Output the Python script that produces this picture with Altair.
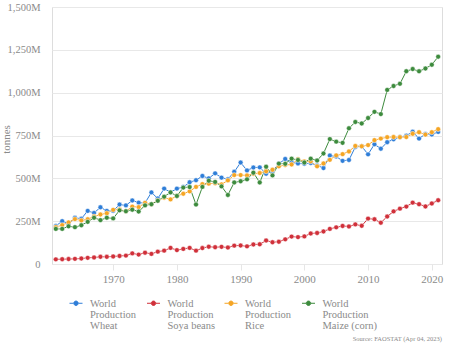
import altair as alt
import pandas as pd

years = list(range(1961, 2022))

wheat = [222, 250, 235, 270, 264, 310, 298, 331, 310, 310, 347, 342, 371, 358, 356, 418, 382, 440, 419, 440,
         449, 477, 489, 514, 500, 529, 504, 495, 538, 592, 546, 563, 564, 527, 543, 585, 613, 593, 587, 585,
         589, 575, 560, 633, 627, 602, 607, 683, 687, 640, 699, 673, 711, 728, 741, 749, 772, 732, 759, 756, 771]
soya = [27, 28, 29, 30, 32, 36, 38, 42, 42, 44, 47, 49, 62, 55, 66, 59, 72, 78, 94, 81,
        88, 94, 78, 93, 101, 98, 100, 96, 107, 108, 103, 114, 115, 137, 127, 130, 144, 160, 157, 161,
        178, 181, 190, 205, 214, 222, 219, 231, 223, 265, 261, 241, 277, 307, 323, 335, 358, 349, 336, 353, 372]
rice = [215, 227, 243, 262, 254, 261, 277, 289, 296, 316, 318, 308, 335, 332, 357, 349, 371, 387, 377, 397,
        410, 424, 450, 466, 469, 471, 465, 488, 519, 519, 517, 527, 531, 541, 550, 570, 578, 581, 611, 599,
        599, 570, 587, 608, 634, 641, 657, 689, 687, 694, 723, 732, 740, 741, 740, 741, 760, 769, 755, 769, 787]
maize = [205, 205, 220, 215, 226, 246, 270, 256, 270, 266, 313, 308, 317, 306, 342, 349, 369, 393, 418, 397,
         446, 449, 347, 450, 486, 479, 453, 403, 476, 483, 494, 533, 476, 568, 517, 586, 585, 615, 607, 592,
         615, 604, 645, 729, 714, 707, 792, 829, 820, 852, 888, 875, 1016, 1039, 1052, 1125, 1138, 1125, 1141, 1163, 1210]

series_names = ["Wheat", "Soya beans", "Rice", "Maize (corn)"]
series_colors = ["#2f7ed8", "#d0303a", "#f5a524", "#3d8b3d"]
series_values = [wheat, soya, rice, maize]

rows = []
for name, vals in zip(series_names, series_values):
    for y, v in zip(years, vals):
        rows.append({"year": y, "value": v * 1e6, "item": name})
df = pd.DataFrame(rows)

FONT = "Liberation Serif"
GRAY = "#8a8a8a"

# legend symbol: short line with a dot in the middle (shifted down to sit on the first label line)
sym = ("M-1,0.62L-0.38,0.62M0.38,0.62L1,0.62"
       "M0.34,0.62A0.34,0.34 0 1 1 -0.34,0.62A0.34,0.34 0 1 1 0.34,0.62Z")

lines = alt.Chart(df).mark_line(
    strokeWidth=1,
    point=alt.OverlayMarkDef(filled=True, size=24, stroke="white", strokeWidth=0.5),
).encode(
    x=alt.X("year:Q",
            scale=alt.Scale(domain=[1960.4, 2021.6], nice=False, zero=False),
            axis=alt.Axis(values=[1970, 1980, 1990, 2000, 2010, 2020], format="d", title=None,
                          grid=False, domain=False, ticks=True, tickSize=6, tickColor="#e6e6e6",
                          labelPadding=3, labelFont=FONT, labelFontSize=11, labelColor=GRAY)),
    y=alt.Y("value:Q",
            scale=alt.Scale(domain=[0, 1.5e9], nice=False),
            axis=alt.Axis(values=[0, 250e6, 500e6, 750e6, 1000e6, 1250e6, 1500e6],
                          labelExpr="datum.value == 0 ? '0' : format(datum.value / 1e6, ',') + 'M'",
                          title="tonnes", titleFont=FONT, titleFontSize=11, titleFontWeight="normal",
                          titleColor=GRAY, titleX=-46, titleY=132, titleAlign="center",
                          titleBaseline="middle", titleAngle=270,
                          grid=True, gridColor="#e8e8e8", domain=False, ticks=False,
                          labelPadding=12, labelFont=FONT, labelFontSize=10.5, labelColor=GRAY)),
    color=alt.Color("item:N",
                    scale=alt.Scale(domain=series_names, range=series_colors),
                    legend=alt.Legend(title=None, orient="none", legendX=17, legendY=285,
                                      direction="horizontal", columns=4, columnPadding=-0.5,
                                      gridAlign="all",
                                      symbolType=sym, symbolSize=169, symbolStrokeWidth=1,
                                      labelOffset=7, labelFont=FONT, labelFontSize=10.5,
                                      labelColor=GRAY, labelBaseline="top",
                                      labelExpr="['World', 'Production', datum.label]")),
    order=alt.Order("year:Q"),
)

source = alt.Chart(pd.DataFrame({"t": ["Source: FAOSTAT (Apr 04, 2023)"]})).mark_text(
    align="right", baseline="middle", font=FONT, fontSize=6.5, color=GRAY
).encode(text="t:N", x=alt.value(390), y=alt.value(332))

chart = alt.layer(lines, source).properties(
    width=390, height=257,
    autosize=alt.AutoSizeParams(type="none"),
    padding={"left": 52, "top": 7, "right": 8, "bottom": 81},
).configure_view(stroke=None).configure(
    style={"guide-label": {"lineHeight": 11}}
)

chart.save("out.html", embed_options={"renderer": "svg", "actions": False})
